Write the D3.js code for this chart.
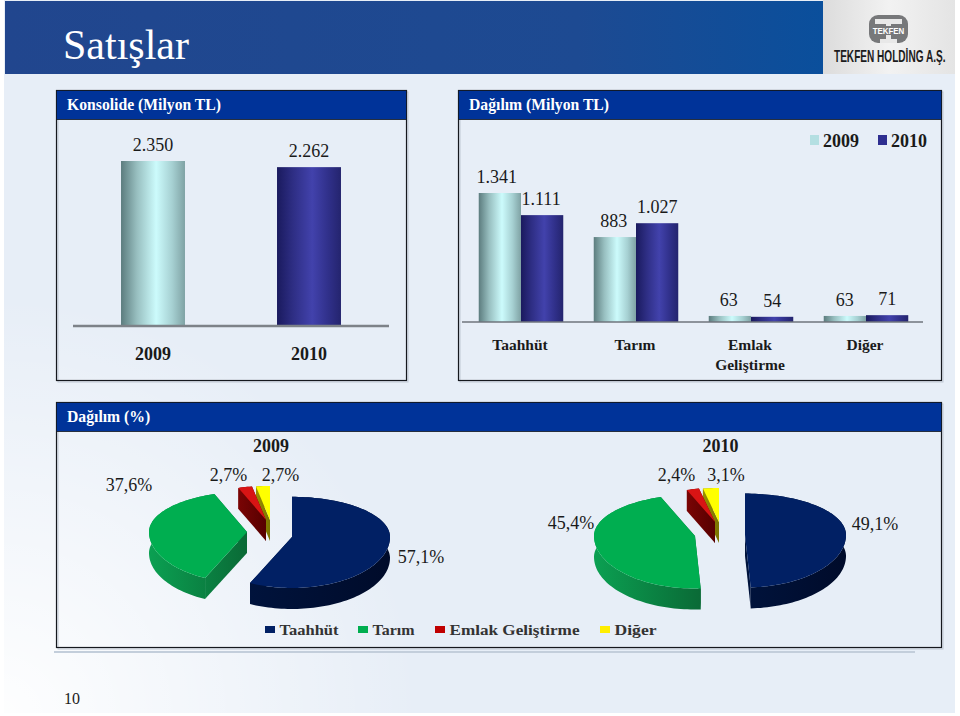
<!DOCTYPE html>
<html lang="tr">
<head>
    <meta charset="UTF-8">
    <title>Satışlar</title>
    <style>
        html, body { margin: 0; padding: 0; background: #fff; overflow: hidden; }
        svg { display: block; }
        text { font-family: 'Liberation Serif', serif; fill: #1a1a1a; }
        .head { font-size: 15.7px; font-weight: bold; fill: #fff; }
        .value { font-size: 18px; text-anchor: middle; }
        .year { font-size: 18px; font-weight: bold; text-anchor: middle; }
        .cat { font-size: 15.5px; font-weight: bold; text-anchor: middle; }
    </style>
</head>
<body>
    <div id="chart"></div>

    <script src="https://d3js.org/d3.v7.min.js"></script>
    <script>
        const years = ['2009', '2010'];
        const totals = [2350, 2262];
        const totalLabels = ['2.350', '2.262'];

        const groups = ['Taahhüt', 'Tarım', 'Emlak Geliştirme', 'Diğer'];
        const sales2009 = [1341, 883, 63, 63];
        const sales2010 = [1111, 1027, 54, 71];
        const labels2009 = ['1.341', '883', '63', '63'];
        const labels2010 = ['1.111', '1.027', '54', '71'];

        const shares2009 = [57.1, 37.6, 2.7, 2.7];
        const shares2010 = [49.1, 45.4, 2.4, 3.1];
        const shareLabels2009 = ['57,1%', '37,6%', '2,7%', '2,7%'];
        const shareLabels2010 = ['49,1%', '45,4%', '2,4%', '3,1%'];

        const topColors = ['#012064', '#00ae50', '#d81414', '#ffff00'];
        const sideColors = [['#00133c', '#000b2a'], ['#0ba052', '#0a6a36'], ['#7a0404', '#560000'], ['#9a9200', '#7a7200']];
        const legendColors = ['#012064', '#00ae50', '#c00000', '#ffee00'];

        const width = 960;
        const height = 716;

        const svg = d3.select('#chart').append('svg')
            .attr('width', width)
            .attr('height', height);
        const defs = svg.append('defs');

        function linearGradient(id, stops, attrs) {
            const g = defs.append('linearGradient').attr('id', id);
            Object.entries(attrs || {}).forEach(([k, v]) => g.attr(k, v));
            stops.forEach(s => g.append('stop').attr('offset', s[0]).attr('stop-color', s[1]));
        }

        linearGradient('bar2009', [[0, '#5c7c7e'], [0.25, '#98bfc0'], [0.55, '#ccfbfc'], [0.8, '#a6d0d2'], [1, '#7fa2a4']]);
        linearGradient('bar2010', [[0, '#1a1a5e'], [0.25, '#2e2e84'], [0.55, '#4242ac'], [0.8, '#30308a'], [1, '#24246e']]);
        linearGradient('banner', [[0, '#21468e'], [0.7, '#1d4a92'], [1, '#0a4f9c']]);
        linearGradient('logoBg', [[0, '#dcdcdc'], [0.5, '#f2f2f2'], [1, '#e4e4e4']]);

        const wash = defs.append('radialGradient').attr('id', 'wash')
            .attr('gradientUnits', 'userSpaceOnUse')
            .attr('cx', 0).attr('cy', 716).attr('r', 420);
        wash.append('stop').attr('offset', 0).attr('stop-color', '#fff').attr('stop-opacity', 0.95);
        wash.append('stop').attr('offset', 1).attr('stop-color', '#fff').attr('stop-opacity', 0);

        // page background
        svg.append('rect').attr('x', 4).attr('y', 0).attr('width', 951).attr('height', 713).attr('fill', '#e7eef7');
        svg.append('rect').attr('x', 4).attr('y', 0).attr('width', 951).attr('height', 713).attr('fill', 'url(#wash)');

        // banner
        svg.append('rect').attr('x', 5).attr('y', 1).attr('width', 818).attr('height', 73).attr('fill', 'url(#banner)');
        svg.append('text').attr('x', 63).attr('y', 59).attr('font-size', 42).style('fill', '#fff').text('Satışlar');

        // logo
        const logo = svg.append('g');
        logo.append('rect').attr('x', 823).attr('y', 0).attr('width', 132).attr('height', 74).attr('fill', 'url(#logoBg)');
        logo.append('rect').attr('x', 869).attr('y', 15).attr('width', 39).attr('height', 28).attr('rx', 9).attr('fill', '#77787a');
        logo.append('path').attr('d', 'M875 19H902V24H891V39H897V43H880V39H886V24H875Z').attr('fill', '#e8e8e8');
        logo.append('rect').attr('x', 870).attr('y', 26).attr('width', 37).attr('height', 9).attr('fill', '#77787a');
        logo.append('text').attr('transform', 'translate(888.5,34) scale(0.88,1)').attr('text-anchor', 'middle')
            .attr('font-size', 9).attr('font-weight', 'bold')
            .style('font-family', "'Liberation Sans', sans-serif").style('fill', '#fff').text('TEKFEN');
        logo.append('text').attr('transform', 'translate(834,62) scale(0.63,1)')
            .attr('font-size', 16).attr('font-weight', 'bold')
            .style('font-family', "'Liberation Sans', sans-serif").style('fill', '#1c1c1c').text('TEKFEN HOLDİNG A.Ş.');

        // panels
        function panel(x, y, w, h, title) {
            svg.append('rect').attr('x', x + 1.5).attr('y', y + 1.5).attr('width', w).attr('height', h)
                .attr('fill', 'none').attr('stroke', '#c0c8d4').attr('stroke-width', 1);
            svg.append('rect').attr('x', x).attr('y', y).attr('width', w).attr('height', h)
                .attr('fill', 'none').attr('stroke', '#15181e').attr('stroke-width', 1.2);
            svg.append('rect').attr('x', x).attr('y', y).attr('width', w).attr('height', 29)
                .attr('fill', '#003399').attr('stroke', '#15181e').attr('stroke-width', 0.8);
            svg.append('text').attr('class', 'head').attr('x', x + 10.5).attr('y', y + 19.5).text(title);
        }
        panel(56.5, 90.5, 350, 290, 'Konsolide (Milyon TL)');
        panel(458.5, 90.5, 483, 290, 'Dağılım (Milyon TL)');
        panel(56.5, 402.5, 885, 245, 'Dağılım (%)');
        svg.append('line').attr('x1', 54).attr('x2', 915).attr('y1', 652).attr('y2', 652)
            .attr('stroke', '#c3cedb').attr('stroke-width', 2);

        // left bars
        const xTotal = d3.scaleBand().domain(years).range([75, 387]).paddingInner(0.59).paddingOuter(0.295);
        const yTotal = d3.scaleLinear().domain([0, 2350]).range([325, 161]);

        svg.append('g').selectAll('rect')
            .data(totals)
            .enter().append('rect')
            .attr('x', (d, i) => xTotal(years[i]))
            .attr('y', d => yTotal(d))
            .attr('width', xTotal.bandwidth())
            .attr('height', d => yTotal(0) - yTotal(d))
            .attr('fill', (d, i) => `url(#bar${years[i]})`);

        svg.append('g').selectAll('text')
            .data(totals)
            .enter().append('text')
            .attr('class', 'value')
            .attr('x', (d, i) => xTotal(years[i]) + xTotal.bandwidth() / 2)
            .attr('y', d => yTotal(d) - 10)
            .text((d, i) => totalLabels[i]);

        svg.append('line').attr('x1', 73).attr('x2', 389).attr('y1', 326).attr('y2', 326)
            .attr('stroke', '#7d8288').attr('stroke-width', 2.5);

        const xTotalAxis = d3.axisBottom(xTotal).tickSize(0).tickPadding(0);
        const totalAxis = svg.append('g').attr('transform', 'translate(0,342)').call(xTotalAxis);
        totalAxis.select('.domain').remove();
        totalAxis.selectAll('text').attr('class', 'year').attr('dy', null).attr('y', 18).style('font-family', null).style('font-size', null);

        // right grouped bars
        const xGroup = d3.scaleBand().domain(groups).range([463.5, 923.5]).paddingInner(0.265).paddingOuter(0.1325);
        const xSeries = d3.scaleBand().domain(years).range([0, xGroup.bandwidth()]);
        const ySales = d3.scaleLinear().domain([0, 1341]).range([322, 193]);
        const nudge2009 = [-3, -1, -1, 0];
        const nudge2010 = [-1, 0, 0, 0];

        [[sales2009, labels2009, '2009', nudge2009], [sales2010, labels2010, '2010', nudge2010]].forEach(([values, labels, year, nudge]) => {
            svg.append('g').selectAll('rect')
                .data(values)
                .enter().append('rect')
                .attr('x', (d, i) => xGroup(groups[i]) + xSeries(year))
                .attr('y', d => ySales(d))
                .attr('width', xSeries.bandwidth())
                .attr('height', d => ySales(0) - ySales(d))
                .attr('fill', `url(#bar${year})`);

            svg.append('g').selectAll('text')
                .data(values)
                .enter().append('text')
                .attr('class', 'value')
                .attr('x', (d, i) => xGroup(groups[i]) + xSeries(year) + xSeries.bandwidth() / 2 + nudge[i])
                .attr('y', d => ySales(d) - 10)
                .text((d, i) => labels[i]);
        });

        svg.append('line').attr('x1', 462).attr('x2', 923).attr('y1', 322).attr('y2', 322)
            .attr('stroke', '#6f757c').attr('stroke-width', 1.4);

        svg.append('g').selectAll('text')
            .data(groups)
            .enter().append('text')
            .attr('class', 'cat')
            .attr('y', 350)
            .each(function (d) {
                const t = d3.select(this);
                d.split(' ').forEach((w, i) => {
                    t.append('tspan')
                        .attr('x', xGroup(d) + xGroup.bandwidth() / 2 - 1)
                        .attr('dy', i ? 20 : 0)
                        .text(w);
                });
            });

        // top right legend
        years.forEach((y, i) => {
            const x = 810 + i * 68;
            svg.append('rect').attr('x', x).attr('y', 135).attr('width', 9).attr('height', 10)
                .attr('fill', i ? '#2e2e90' : '#b4dfe2');
            svg.append('text').attr('x', x + 13).attr('y', 147).attr('font-size', 18).attr('font-weight', 'bold').text(y);
        });

        // 3d pies: top surface squashed, back half flatter than the front
        const pieLayout = d3.pie().sort(null).value(d => d).startAngle(0).endAngle(2 * Math.PI);
        const sliceDepth = 21;

        function rimPoint(c, a) {
            const k = Math.cos(a);
            return [c.x + c.r * Math.sin(a), c.y - k * c.r * (k > 0 ? 0.41 : 0.52)];
        }

        function drawPie(values, centres, idPrefix) {
            const line = d3.line();
            const down = p => [p[0], p[1] + sliceDepth];
            // small slices sit behind their neighbours, so draw last slice first
            pieLayout(values).reverse().forEach(s => {
                const i = s.index;
                const c = centres[i];
                const apex = [c.x, c.y];
                const n = Math.max(4, Math.ceil((s.endAngle - s.startAngle) * 30));
                const rim = d3.range(n + 1).map(k => rimPoint(c, s.startAngle + (s.endAngle - s.startAngle) * k / n));
                const outline = [apex].concat(rim);
                const ext = d3.extent(outline, p => p[0]);
                linearGradient(idPrefix + i, [[0, sideColors[i][0]], [1, sideColors[i][1]]], {
                    gradientUnits: 'userSpaceOnUse', x1: ext[0], x2: ext[1], y1: 0, y2: 0
                });
                const g = svg.append('g').attr('fill', `url(#${idPrefix}${i})`);
                const first = rim[0];
                const last = rim[rim.length - 1];
                g.append('path').attr('d', line([apex, first, down(first), down(apex)]) + 'Z');
                g.append('path').attr('d', line([apex, last, down(last), down(apex)]) + 'Z');
                g.append('path').attr('d', line(rim.concat(rim.map(down).reverse())) + 'Z');
                g.append('path').attr('d', line(outline) + 'Z').attr('fill', topColors[i]);
            });
        }

        drawPie(shares2009, [
            { x: 292, y: 537, r: 98 },
            { x: 247, y: 532, r: 98 },
            { x: 266, y: 520, r: 83 },
            { x: 270, y: 520, r: 83 }
        ], 'side09');
        drawPie(shares2010, [
            { x: 745, y: 535, r: 101 },
            { x: 695, y: 536, r: 101 },
            { x: 715, y: 522, r: 83 },
            { x: 719, y: 522, r: 83 }
        ], 'side10');

        // pie labels
        const labelPos2009 = [[421, 563], [129, 491], [228.5, 481], [280.5, 481]];
        const labelPos2010 = [[875, 530], [571, 529], [676.5, 481], [726, 481]];
        [[shareLabels2009, labelPos2009], [shareLabels2010, labelPos2010]].forEach(([labels, pos]) => {
            svg.append('g').selectAll('text')
                .data(labels)
                .enter().append('text')
                .attr('class', 'value')
                .attr('x', (d, i) => pos[i][0])
                .attr('y', (d, i) => pos[i][1])
                .text(d => d);
        });
        svg.append('text').attr('class', 'year').attr('x', 271).attr('y', 452).text(years[0]);
        svg.append('text').attr('class', 'year').attr('x', 720.5).attr('y', 452).text(years[1]);

        // pie legend
        const legendX = [265, 358, 435, 600];
        const legendW = [59, 42, 130, 42];
        groups.forEach((g, i) => {
            svg.append('rect').attr('x', legendX[i]).attr('y', 626).attr('width', 10).attr('height', 7)
                .attr('fill', legendColors[i]);
            svg.append('text').attr('x', legendX[i] + 14.5).attr('y', 635)
                .attr('font-size', 14).attr('font-weight', 'bold')
                .attr('textLength', legendW[i]).attr('lengthAdjust', 'spacingAndGlyphs')
                .style('fill', '#333').text(g);
        });

        svg.append('text').attr('x', 64).attr('y', 704).attr('font-size', 16).text('10');
    </script>
</body>
</html>
